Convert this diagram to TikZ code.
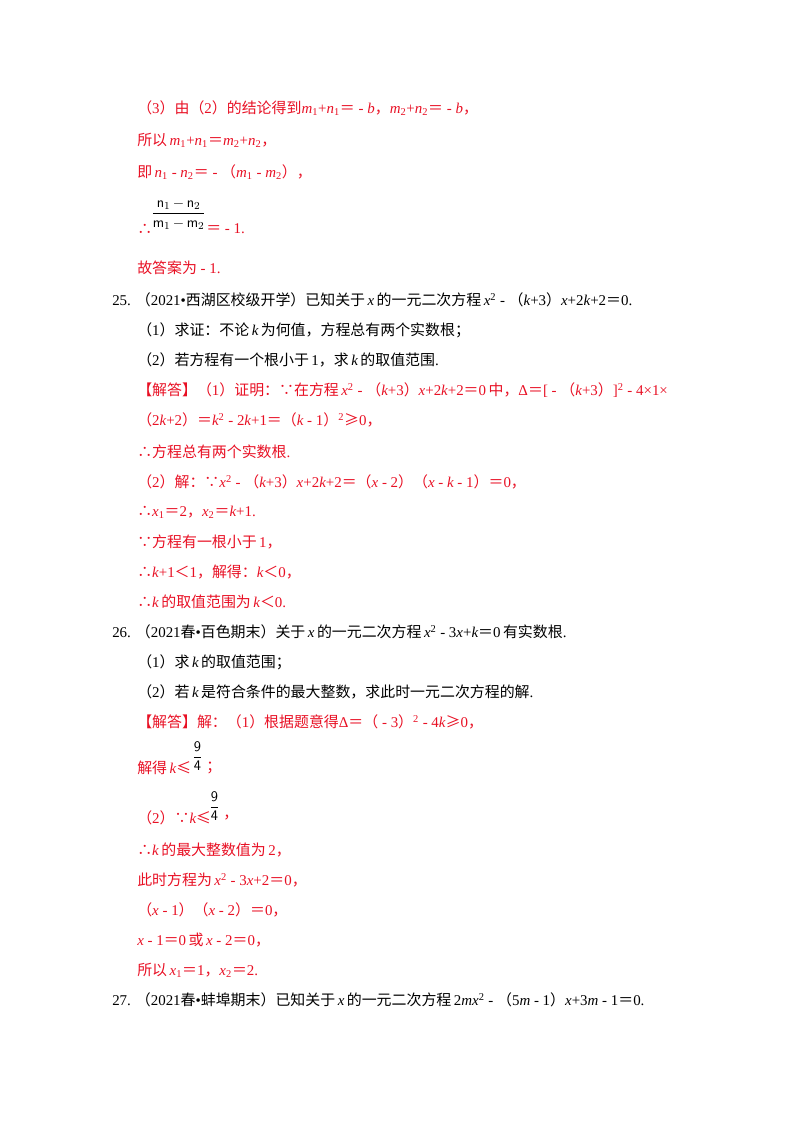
\documentclass[tikz,border=0pt]{standalone}
\usepackage{amsmath}
\usepackage{fontspec}
\setmainfont{Noto Sans CJK SC}
\newfontfamily\lib{Liberation Serif}
\newfontfamily\libs{Liberation Sans}
\newcommand\vi[1]{{\lib\itshape #1}}
\newcommand\nm[1]{{\lib #1}}
\definecolor{ans}{RGB}{232,16,36}
\begin{document}
\begin{tikzpicture}[x=0.75pt,y=-0.75pt,
  ln/.style={anchor=west,inner sep=0pt,font=\fontsize{11.2}{13}\selectfont},
  rd/.style={ln,text=ans}]
\useasboundingbox (0,0) rectangle (800,1132);
\node[rd] (l1) at (137,108) {（\nm{3}）由（\nm{2}）的结论得到\vi{m}\nm{\textsubscript{1}+}\vi{n}\nm{\textsubscript{1}}＝\nm{ - }\vi{b}，\vi{m}\nm{\textsubscript{2}+}\vi{n}\nm{\textsubscript{2}}＝\nm{ - }\vi{b}，};
\node[rd] (l2) at (137,140) {所以\,\vi{m}\nm{\textsubscript{1}+}\vi{n}\nm{\textsubscript{1}}＝\vi{m}\nm{\textsubscript{2}+}\vi{n}\nm{\textsubscript{2}}，};
\node[rd] (l3) at (137,172) {即\,\vi{n}\nm{\textsubscript{1} - }\vi{n}\nm{\textsubscript{2}}＝\nm{ - }（\vi{m}\nm{\textsubscript{1} - }\vi{m}\nm{\textsubscript{2}}），};
\node[rd] (th) at (137,229) {∴};
\node[anchor=west,inner sep=0pt] (fr) at (151,214) {\fontsize{11}{13}\selectfont$\dfrac{\mathsf{n}_1\,{-}\,\mathsf{n}_2}{\mathsf{m}_1\,{-}\,\mathsf{m}_2}$};
\node[rd] (l4) at (206,229) {＝\nm{ - 1.}};
\node[rd] (l5) at (137,268) {故答案为\nm{ - 1.}};
\node[ln] (q25) at (112,300) {\nm{25.\,\,}（\nm{2021•}西湖区校级开学）已知关于\,\vi{x}\,的一元二次方程\,\vi{x}\nm{\textsuperscript{2} - }（\vi{k}\nm{+3}）\vi{x}\nm{+2}\vi{k}\nm{+2}＝\nm{0.}};
\node[ln] (q251) at (137,330) {（\nm{1}）求证：不论\,\vi{k}\,为何值，方程总有两个实数根；};
\node[ln] (q252) at (137,360) {（\nm{2}）若方程有一个根小于\,\nm{1}，求\,\vi{k}\,的取值范围\nm{.}};
\node[rd] (a1) at (137,390) {【解答】（\nm{1}）证明：∵在方程\,\vi{x}\nm{\textsuperscript{2} - }（\vi{k}\nm{+3}）\vi{x}\nm{+2}\vi{k}\nm{+2}＝\nm{0}\,中，\nm{Δ}＝\nm{[ - }（\vi{k}\nm{+3}）\nm{]\textsuperscript{2} - 4×1×}};
\node[rd] (a2) at (137,420) {（\nm{2}\vi{k}\nm{+2}）＝\vi{k}\nm{\textsuperscript{2} - 2}\vi{k}\nm{+1}＝（\vi{k}\nm{ - 1}）\nm{\textsuperscript{2}}≥\nm{0}，};
\node[rd] (a3) at (137,452) {∴方程总有两个实数根\nm{.}};
\node[rd] (a4) at (137,482) {（\nm{2}）解：∵\vi{x}\nm{\textsuperscript{2} - }（\vi{k}\nm{+3}）\vi{x}\nm{+2}\vi{k}\nm{+2}＝（\vi{x}\nm{ - 2}）（\vi{x}\nm{ - }\vi{k}\nm{ - 1}）＝\nm{0}，};
\node[rd] (a5) at (137,512) {∴\vi{x}\nm{\textsubscript{1}}＝\nm{2}，\vi{x}\nm{\textsubscript{2}}＝\vi{k}\nm{+1.}};
\node[rd] (a6) at (137,542) {∵方程有一根小于\,\nm{1}，};
\node[rd] (a7) at (137,572) {∴\vi{k}\nm{+1}＜\nm{1}，解得：\vi{k}＜\nm{0}，};
\node[rd] (a8) at (137,602) {∴\vi{k}\,的取值范围为\,\vi{k}＜\nm{0.}};
\node[ln] (q26) at (112,632) {\nm{26.\,\,}（\nm{2021}春\nm{•}百色期末）关于\,\vi{x}\,的一元二次方程\,\vi{x}\nm{\textsuperscript{2} - 3}\vi{x}\nm{+}\vi{k}＝\nm{0}\,有实数根\nm{.}};
\node[ln] (q261) at (137,662) {（\nm{1}）求\,\vi{k}\,的取值范围；};
\node[ln] (q262) at (137,692) {（\nm{2}）若\,\vi{k}\,是符合条件的最大整数，求此时一元二次方程的解\nm{.}};
\node[rd] (b1) at (137,722) {【解答】解：（\nm{1}）根据题意得\nm{Δ}＝（\nm{ - 3}）\nm{\textsuperscript{2} - 4}\vi{k}≥\nm{0}，};
\node[rd] (b2) at (137,768) {解得\,\vi{k}≤};
\node[anchor=west,inner sep=0pt] (f2) at (192,756) {\fontsize{11}{13}\selectfont$\dfrac{\mathsf{9}}{\mathsf{4}}$};
\node[rd] (b2b) at (206,768) {；};
\node[rd] (b3) at (137,818) {（\nm{2}）∵\vi{k}≤};
\node[anchor=west,inner sep=0pt] (f3) at (209,806) {\fontsize{11}{13}\selectfont$\dfrac{\mathsf{9}}{\mathsf{4}}$};
\node[rd] (b3b) at (223,818) {，};
\node[rd] (b4) at (137,850) {∴\vi{k}\,的最大整数值为\,\nm{2}，};
\node[rd] (b5) at (137,880) {此时方程为\,\vi{x}\nm{\textsuperscript{2} - 3}\vi{x}\nm{+2}＝\nm{0}，};
\node[rd] (b6) at (137,910) {（\vi{x}\nm{ - 1}）（\vi{x}\nm{ - 2}）＝\nm{0}，};
\node[rd] (b7) at (137,940) {\vi{x}\nm{ - 1}＝\nm{0}\,或\,\vi{x}\nm{ - 2}＝\nm{0}，};
\node[rd] (b8) at (137,970) {所以\,\vi{x}\nm{\textsubscript{1}}＝\nm{1}，\vi{x}\nm{\textsubscript{2}}＝\nm{2.}};
\node[ln] (q27) at (112,1000) {\nm{27.\,\,}（\nm{2021}春\nm{•}蚌埠期末）已知关于\,\vi{x}\,的一元二次方程\,\nm{2}\vi{mx}\nm{\textsuperscript{2} - }（\nm{5}\vi{m}\nm{ - 1}）\vi{x}\nm{+3}\vi{m}\nm{ - 1}＝\nm{0.}};
\end{tikzpicture}
\end{document}
